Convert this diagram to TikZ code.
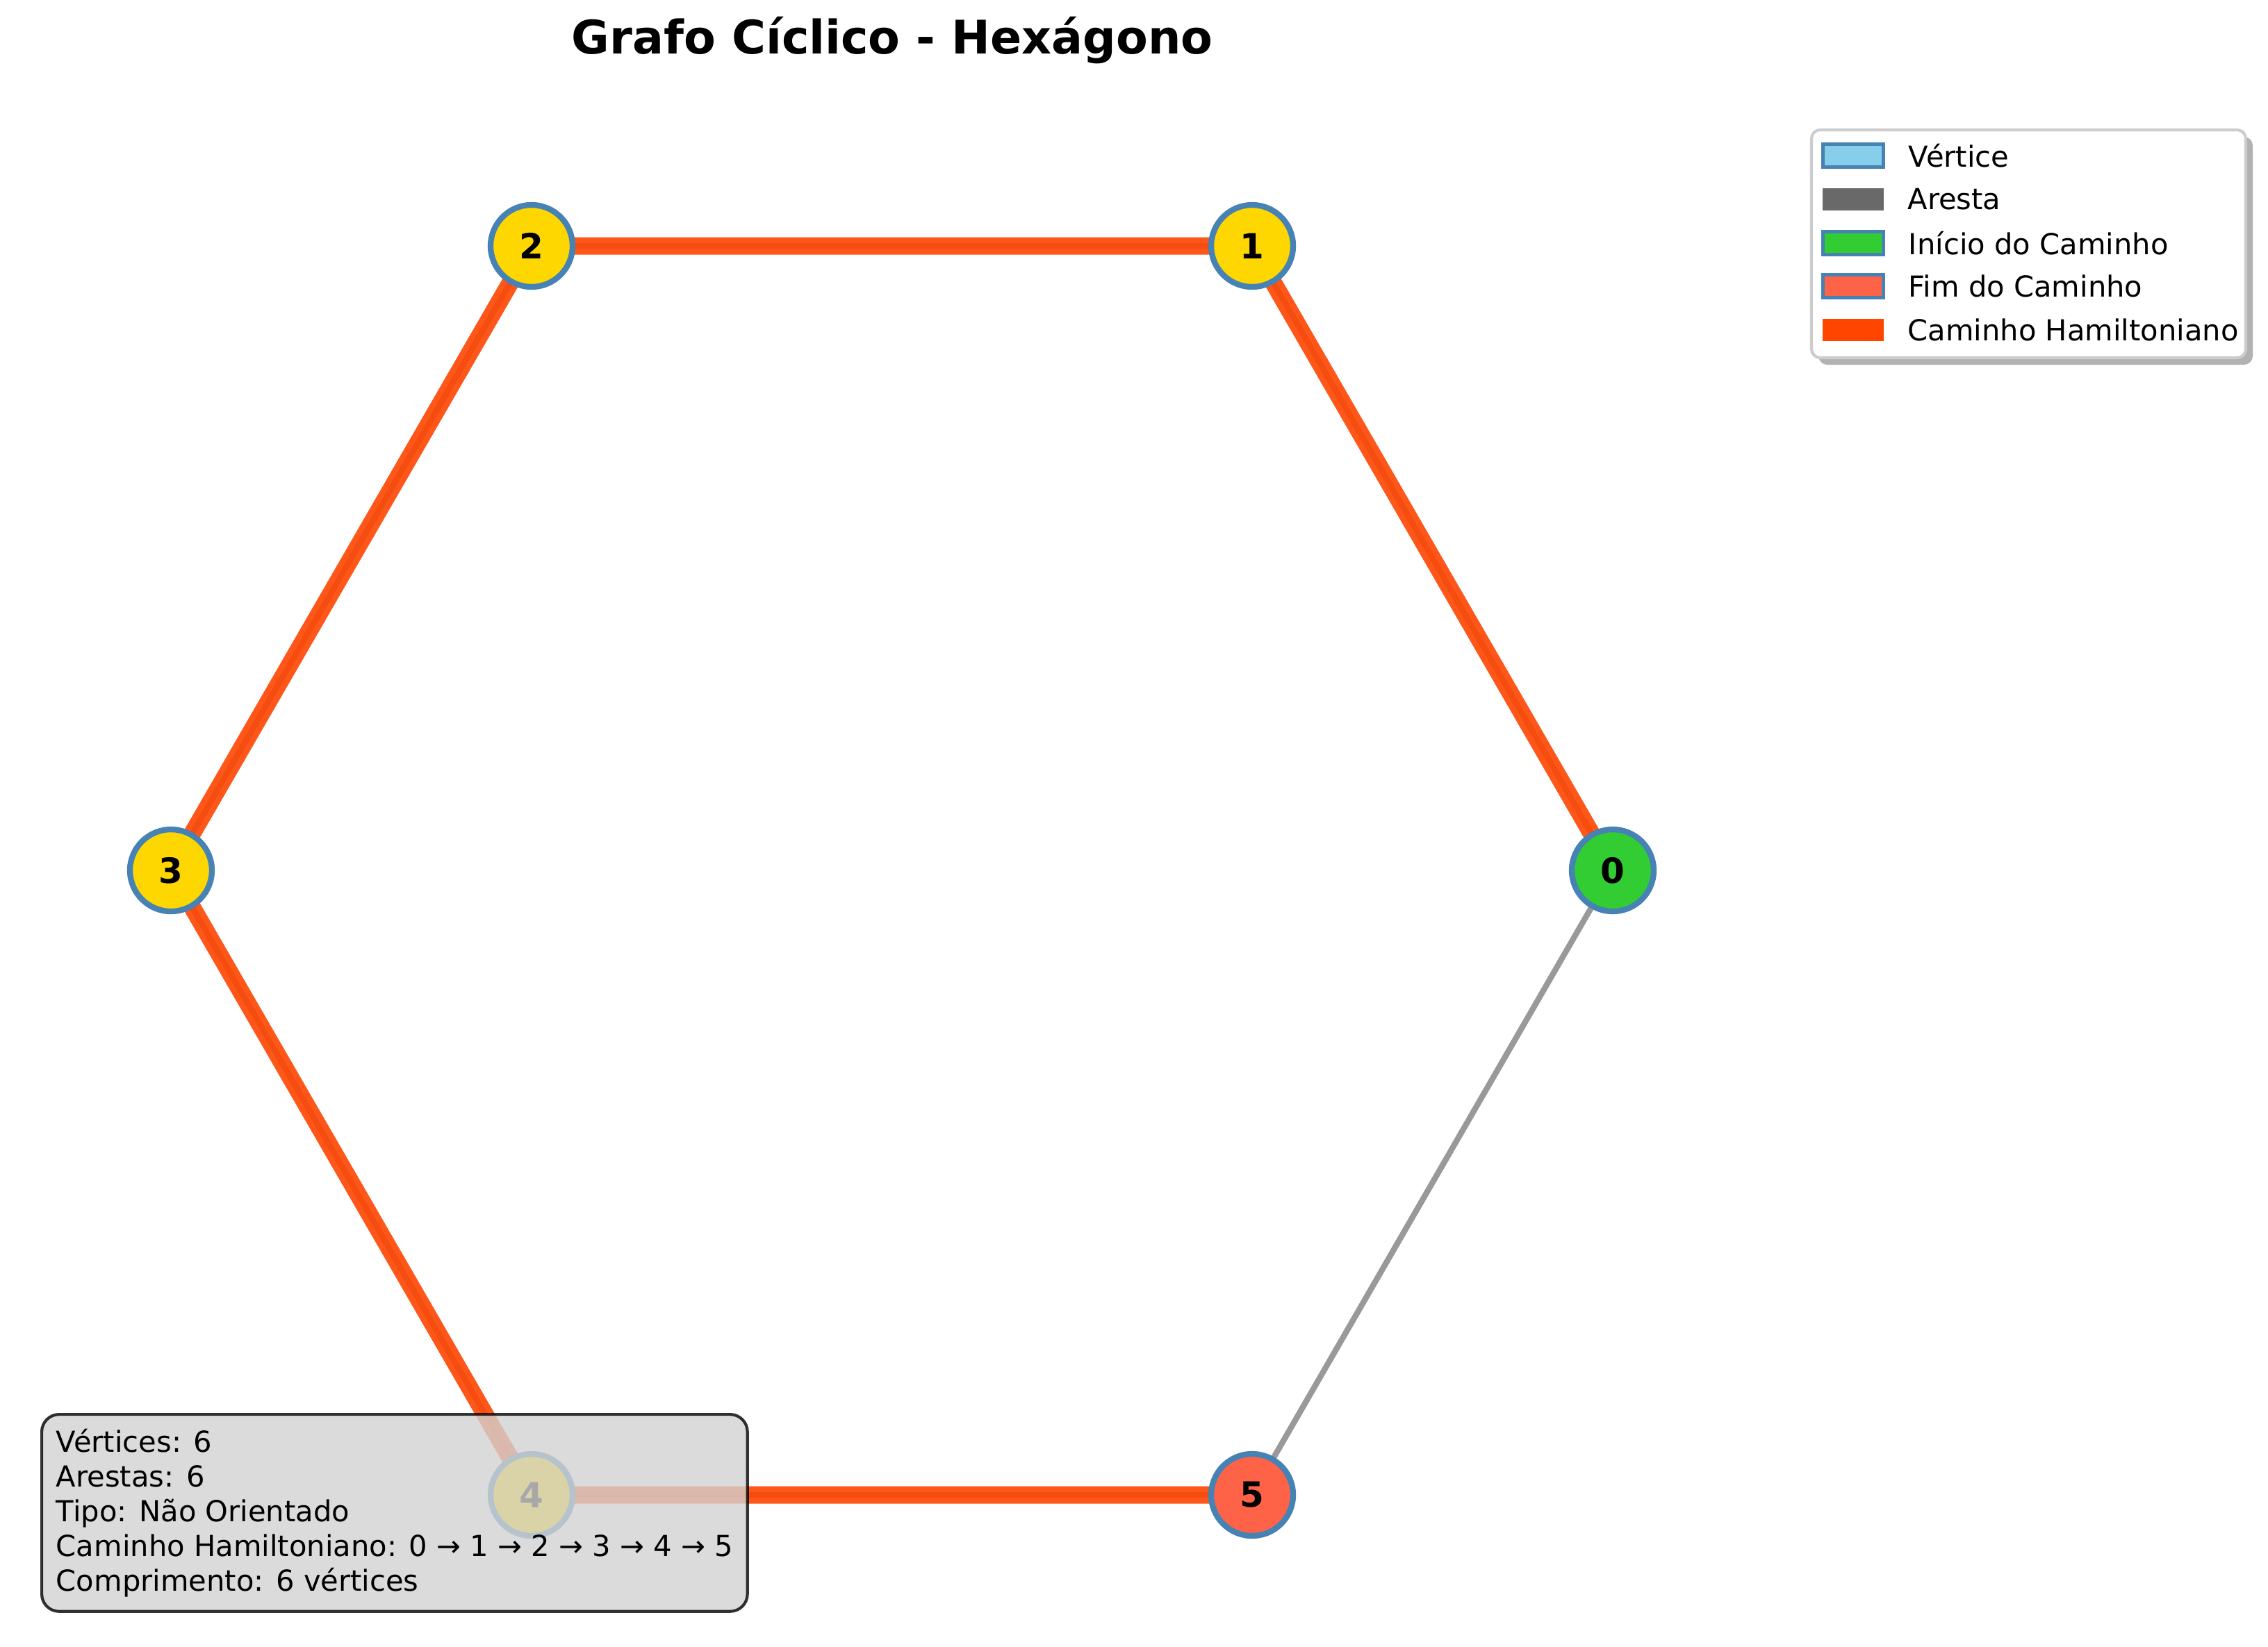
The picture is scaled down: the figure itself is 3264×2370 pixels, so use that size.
\documentclass[tikz,border=0pt]{standalone}
\usepackage{fontspec}
\setmainfont{DejaVu Sans}
\usetikzlibrary{positioning}
\definecolor{gold}{HTML}{FFD700}
\definecolor{steelblue}{HTML}{4682B4}
\definecolor{limegreen}{HTML}{32CD32}
\definecolor{tomato}{HTML}{FF6347}
\definecolor{orangered}{HTML}{FF4500}
\definecolor{skyblue}{HTML}{87CEEB}
\definecolor{dimgray}{HTML}{696969}
\definecolor{lightgray}{HTML}{D3D3D3}
\definecolor{framegray}{HTML}{CCCCCC}
\begin{document}
\begin{tikzpicture}[
  x=0.24pt, y=-0.24pt,
  vertex/.style={draw=steelblue, line width=2pt, fill=gold, circle, minimum size=28.3pt,
    inner sep=0pt, font=\fontsize{12}{14}\selectfont\bfseries},
  start_vertex/.style={fill=limegreen},
  end_vertex/.style={fill=tomato},
  edge_gray/.style={draw=gray, draw opacity=0.8, line width=2pt},
  ham_path/.style={draw=orangered, draw opacity=0.9, line width=6pt},
  patch/.style={minimum width=20.9pt, minimum height=7.9pt, inner sep=0pt},
  legend_text/.style={inner sep=0pt, font=\fontsize{10}{12}\selectfont}
  ]
	\useasboundingbox[fill=white] (0,0) rectangle (3264,2370);

	% title
	\node[font=\fontsize{16}{19}\selectfont\bfseries] (title) at (1284,58) {Grafo Cíclico - Hexágono};

	% vertices of the hexagon
	\coordinate (c0) at (2321,1253);
	\coordinate (c1) at (1802,354);
	\coordinate (c2) at (765,354);
	\coordinate (c3) at (246,1253);
	\coordinate (c4) at (765,2152);
	\coordinate (c5) at (1802,2152);

	% edges
	\draw[edge_gray] (c0) -- (c1) -- (c2) -- (c3) -- (c4) -- (c5) -- cycle;
	\draw[ham_path] (c0) -- (c1) -- (c2) -- (c3) -- (c4) -- (c5);

	% nodes
	\node[vertex, start_vertex] (0) at (c0) {0};
	\node[vertex] (1) at (c1) {1};
	\node[vertex] (2) at (c2) {2};
	\node[vertex] (3) at (c3) {3};
	\node[vertex] (4) at (c4) {4};
	\node[vertex, end_vertex] (5) at (c5) {5};

	% info box
	\node[anchor=north west, align=left, draw=black, fill=lightgray, opacity=0.8, text opacity=1,
	  line width=1pt, rounded corners=6pt, inner sep=5pt, font=\fontsize{10}{12}\selectfont]
	  (info) at (58,2034)
	  {Vértices: 6\\Arestas: 6\\Tipo: Não Orientado\\Caminho Hamiltoniano: 0 → 1 → 2 → 3 → 4 → 5\\Comprimento: 6 vértices};

	% legend
	\fill[gray, opacity=0.6, rounded corners=3pt] (2617,197) rectangle (3242,525);
	\draw[framegray, fill=white, line width=1pt, rounded corners=3pt] (2607,187) rectangle (3232,515);
	\node[patch, fill=skyblue, draw=steelblue, line width=1pt] (p_vertex) at (2667,224) {};
	\node[patch, fill=dimgray] (p_edge) at (2667,287) {};
	\node[patch, fill=limegreen, draw=steelblue, line width=1pt] (p_start) at (2667,350) {};
	\node[patch, fill=tomato, draw=steelblue, line width=1pt] (p_end) at (2667,412) {};
	\node[patch, fill=orangered] (p_path) at (2667,475) {};
	\node[legend_text] (l_vertex) [right=8pt of p_vertex] {Vértice};
	\node[legend_text] (l_edge) [right=8pt of p_edge] {Aresta};
	\node[legend_text] (l_start) [right=8pt of p_start] {Início do Caminho};
	\node[legend_text] (l_end) [right=8pt of p_end] {Fim do Caminho};
	\node[legend_text] (l_path) [right=8pt of p_path] {Caminho Hamiltoniano};
\end{tikzpicture}
\end{document}
